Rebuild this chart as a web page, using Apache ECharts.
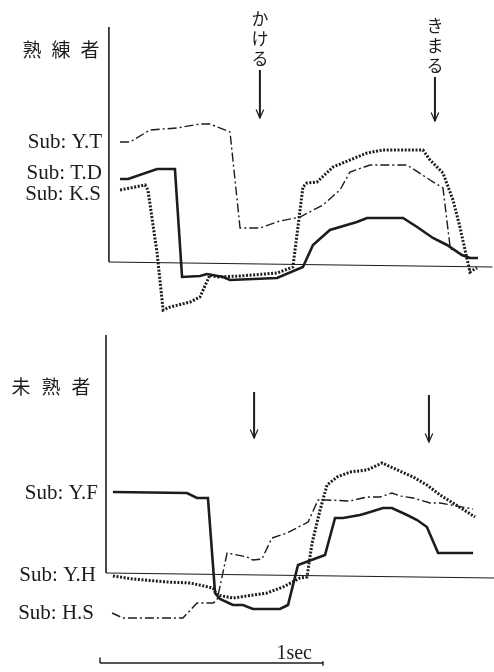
<!DOCTYPE html>
<html><head><meta charset="utf-8">
<script src="https://cdn.jsdelivr.net/npm/echarts@6/dist/echarts.min.js"></script>
<style>html,body{margin:0;padding:0;background:#fff}#c{width:494px;height:672px}</style>
</head><body><div id="c"></div>
<script>
// time in seconds, amplitude in arbitrary units (0 = baseline)
// 熟練者 (skilled)
const subYT = [[0.090,12.0],[0.135,12.0],[0.224,13.2],[0.345,13.4],[0.448,13.8],[0.493,13.8],[0.583,13.0],[0.628,3.4],[0.717,3.4],[0.807,4.1],[0.897,4.5],[1.000,5.7],[1.076,7.2],[1.121,9.0],[1.211,9.7],[1.377,9.7],[1.480,8.2],[1.538,7.4],[1.570,1.5],[1.578,1.2]];
const subTD = [[0.090,8.3],[0.126,8.3],[0.256,9.3],[0.336,9.3],[0.368,-1.5],[0.448,-1.4],[0.480,-1.2],[0.552,-1.5],[0.583,-1.8],[0.794,-1.6],[0.910,-0.5],[0.955,1.7],[1.031,3.2],[1.152,4.0],[1.197,4.4],[1.359,4.4],[1.422,3.5],[1.493,2.4],[1.556,1.7],[1.623,0.7],[1.659,0.4],[1.695,0.4]];
const subKS = [[0.090,7.2],[0.202,7.7],[0.215,7.2],[0.256,0.9],[0.283,-4.8],[0.314,-4.5],[0.404,-4.0],[0.448,-3.5],[0.493,-1.3],[0.525,-1.5],[0.628,-1.4],[0.794,-1.1],[0.865,-0.5],[0.910,7.5],[0.928,7.9],[0.973,8.0],[1.045,9.5],[1.121,10.2],[1.197,10.9],[1.269,11.2],[1.448,11.2],[1.480,10.2],[1.538,8.9],[1.583,6.2],[1.614,3.5],[1.659,-1.0],[1.673,-0.8],[1.691,-0.6]];
// 未熟者 (unskilled)
const subYF = [[0.058,8.1],[0.390,8.0],[0.435,7.5],[0.484,7.5],[0.516,-2.0],[0.538,-2.6],[0.596,-3.2],[0.641,-3.2],[0.686,-3.6],[0.807,-3.6],[0.843,-3.2],[0.888,0.8],[1.009,1.8],[1.054,5.5],[1.090,5.5],[1.166,5.8],[1.197,6.0],[1.269,6.5],[1.309,6.5],[1.377,5.8],[1.422,5.3],[1.466,4.6],[1.516,2.0],[1.673,2.0]];
const subHS = [[0.054,-4.0],[0.103,-4.5],[0.372,-4.5],[0.435,-3.0],[0.507,-3.0],[0.525,-2.7],[0.570,2.0],[0.659,1.6],[0.686,1.3],[0.726,1.4],[0.771,3.5],[0.839,4.0],[0.933,5.1],[0.978,7.3],[1.018,7.3],[1.121,7.2],[1.197,7.6],[1.256,7.6],[1.309,8.0],[1.345,7.7],[1.404,7.5],[1.480,7.0],[1.525,7.0],[1.673,6.4]];
const subYH = [[0.058,-0.3],[0.148,-0.6],[0.300,-0.9],[0.404,-1.0],[0.507,-1.5],[0.525,-2.2],[0.596,-2.5],[0.628,-2.4],[0.749,-2.0],[0.821,-1.4],[0.897,-0.5],[0.928,-0.4],[0.951,3.0],[0.987,6.3],[1.018,8.8],[1.063,9.6],[1.121,10.1],[1.197,10.3],[1.265,11.0],[1.314,10.5],[1.404,9.6],[1.466,8.8],[1.525,7.8],[1.583,7.0],[1.682,5.6]];

// axes (vertical axis + baseline) per panel
const topAxisV = [[0.040,0],[0.040,23.5]];
const topBase = [[0.040,0],[1.760,-0.5]];
const botAxisV = [[0.027,0],[0.027,23.8]];
const botBase = [[0.027,0],[1.770,-0.5]];

// event arrows: [time, shaft top, tip]
const topArrows = [[0.717,19.2,14.4],[1.502,18.5,14.1]];
const topArrowText = ['かける','きまる'];
const botArrows = [[0.691,18.1,13.5],[1.475,17.8,13.1]];

// scale bar: 1 sec
const scaleBar = [[0,0],[1,0]];
const scaleText = '1sec';

const labelsTop = ['Sub: Y.T','Sub: T.D','Sub: K.S'];
const labelsBot = ['Sub: Y.F','Sub: Y.H','Sub: H.S'];

const INK = '#1c1c1c';
const X_MAX = 394/223;

const chart = echarts.init(document.getElementById('c'), null, {renderer:'canvas'});

function ln(data, g, width, type, extra){
  return Object.assign({type:'line', xAxisIndex:g, yAxisIndex:g, data:data, showSymbol:false, symbol:'none',
    clip:false, silent:true, animation:false,
    lineStyle:{color:INK, width:width, type:type||'solid', cap:'butt', join:'miter'}}, extra||{});
}
const series = [];
series.push(ln(topAxisV,0,1.6));
series.push(ln(topBase,0,1));
series.push(ln(botAxisV,1,1.6));
series.push(ln(botBase,1,1));
const dashDot = [9,3,2,3];
const dots = [2,1.6];
series.push(ln(subYT,0,1.4,dashDot));
series.push(ln(subTD,0,2.6));
series.push(ln(subKS,0,3,dots));
series.push(ln(subYF,1,2.6));
series.push(ln(subHS,1,1.4,dashDot));
series.push(ln(subYH,1,3,dots));
function arrow(a,g){
  series.push(ln([[a[0],a[1]],[a[0],a[2]]],g,2));
  const dx = 0.017, dy = 0.85;
  series.push(ln([[a[0]-dx,a[2]+dy],[a[0],a[2]],[a[0]+dx,a[2]+dy]],g,1.2));
}
topArrows.forEach(a=>arrow(a,0));
botArrows.forEach(a=>arrow(a,1));
series.push(ln(scaleBar,2,1.4));
series.push(ln([[0,0],[0,0.6]],2,1.4));
series.push(ln([[1,0.2],[1,-0.3]],2,1.4));

const option = {
  backgroundColor:'#fff',
  animation:false,
  grid:[
    {left:100, width:394, top:22, height:290},
    {left:100, width:394, top:333, height:290},
    {left:100, width:394, top:654, height:20}
  ],
  xAxis:[0,1,2].map(i=>({type:'value', gridIndex:i, min:0, max:X_MAX, show:false})),
  yAxis:[
    {type:'value', gridIndex:0, min:-5, max:24, show:false},
    {type:'value', gridIndex:1, min:-5, max:24, show:false},
    {type:'value', gridIndex:2, min:-1, max:1, show:false}
  ],
  series:series
};
chart.setOption(option);

// texts
const serif = '"Liberation Serif","DejaVu Serif",serif';
const cjk = '"Noto Sans CJK JP","Noto Sans CJK SC",sans-serif';
const g = [];
function txt(x,y,s,opt){
  g.push({type:'text', x:x, y:y, silent:true, style:Object.assign({text:s, fill:INK, font:'21px '+serif, textAlign:'right', textVerticalAlign:'middle'}, opt||{})});
}
[[32,50,'熟'],[61,50,'練'],[90,50,'者'],[21,387,'未'],[51,387,'熟'],[81,387,'者']].forEach(c=>{
  txt(c[0],c[1],c[2],{font:'19px '+cjk, textAlign:'center'});
});
txt(102,142,labelsTop[0]);
txt(102,173,labelsTop[1]);
txt(101,194,labelsTop[2]);
txt(98,493,labelsBot[0]);
txt(96,575,labelsBot[1]);
txt(94,613,labelsBot[2]);
// vertical kana above top arrows
topArrows.forEach((a,i)=>{
  const p = chart.convertToPixel({gridIndex:0},[a[0],a[1]]);
  const chars = topArrowText[i].split('');
  chars.forEach((ch,k)=>{
    txt(p[0], p[1]-11-(chars.length-1-k)*20, ch, {font:'17px '+cjk, textAlign:'center'});
  });
});
const sp = chart.convertToPixel({gridIndex:2},[1,0]);
txt(sp[0]-11, sp[1]-9, scaleText, {font:'20px '+serif});
chart.setOption({graphic:g});
</script>
</body></html>
